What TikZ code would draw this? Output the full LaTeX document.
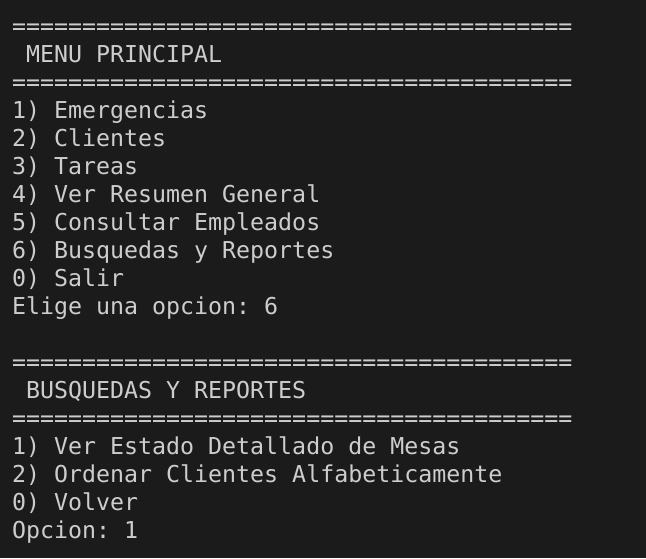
\documentclass[tikz,border=0pt]{standalone}
\usepackage{fontspec}
\setmonofont{DejaVu Sans Mono}
\usetikzlibrary{positioning}
\definecolor{termbg}{HTML}{1B1B1B}
\definecolor{termfg}{HTML}{CDCDCD}
\newcommand\rulerline{========================================}
\tikzset {
  % one line of console output
  console line/.style = {
    anchor = base west,
    inner sep = 0,
    text = termfg,
    font = \fontsize{23.26}{28}\selectfont\ttfamily\frenchspacing
  },
  % row of equal signs
  ruler/.style = {
    console line
  },
  % title between two rulers, one column in
  heading/.style = {
    console line,
    xshift = 14pt
  },
  node distance = 28pt
}
\begin{document}
\begin{tikzpicture}
    \fill[termbg] (0,0) rectangle (646pt,-558pt);
    \useasboundingbox (0,0) rectangle (646pt,-558pt);

    \node[ruler] (menu-rule-a) at (12pt,-34pt) {\rulerline};
    \node (menu-title) [below=of menu-rule-a.base west, heading] {MENU PRINCIPAL};
    \node (menu-rule-b) [below=56pt of menu-rule-a.base west, ruler] {\rulerline};
    \node (menu-1) [below=of menu-rule-b.base west, console line] {1) Emergencias};
    \node (menu-2) [below=of menu-1.base west, console line] {2) Clientes};
    \node (menu-3) [below=of menu-2.base west, console line] {3) Tareas};
    \node (menu-4) [below=of menu-3.base west, console line] {4) Ver Resumen General};
    \node (menu-5) [below=of menu-4.base west, console line] {5) Consultar Empleados};
    \node (menu-6) [below=of menu-5.base west, console line] {6) Busquedas y Reportes};
    \node (menu-0) [below=of menu-6.base west, console line] {0) Salir};
    \node (menu-prompt) [below=of menu-0.base west, console line] {Elige una opcion: 6};

    \node (sub-rule-a) [below=56pt of menu-prompt.base west, ruler] {\rulerline};
    \node (sub-title) [below=of sub-rule-a.base west, heading] {BUSQUEDAS Y REPORTES};
    \node (sub-rule-b) [below=56pt of sub-rule-a.base west, ruler] {\rulerline};
    \node (sub-1) [below=of sub-rule-b.base west, console line] {1) Ver Estado Detallado de Mesas};
    \node (sub-2) [below=of sub-1.base west, console line] {2) Ordenar Clientes Alfabeticamente};
    \node (sub-0) [below=of sub-2.base west, console line] {0) Volver};
    \node (sub-prompt) [below=of sub-0.base west, console line] {Opcion: 1};
  \end{tikzpicture}
\end{document}
